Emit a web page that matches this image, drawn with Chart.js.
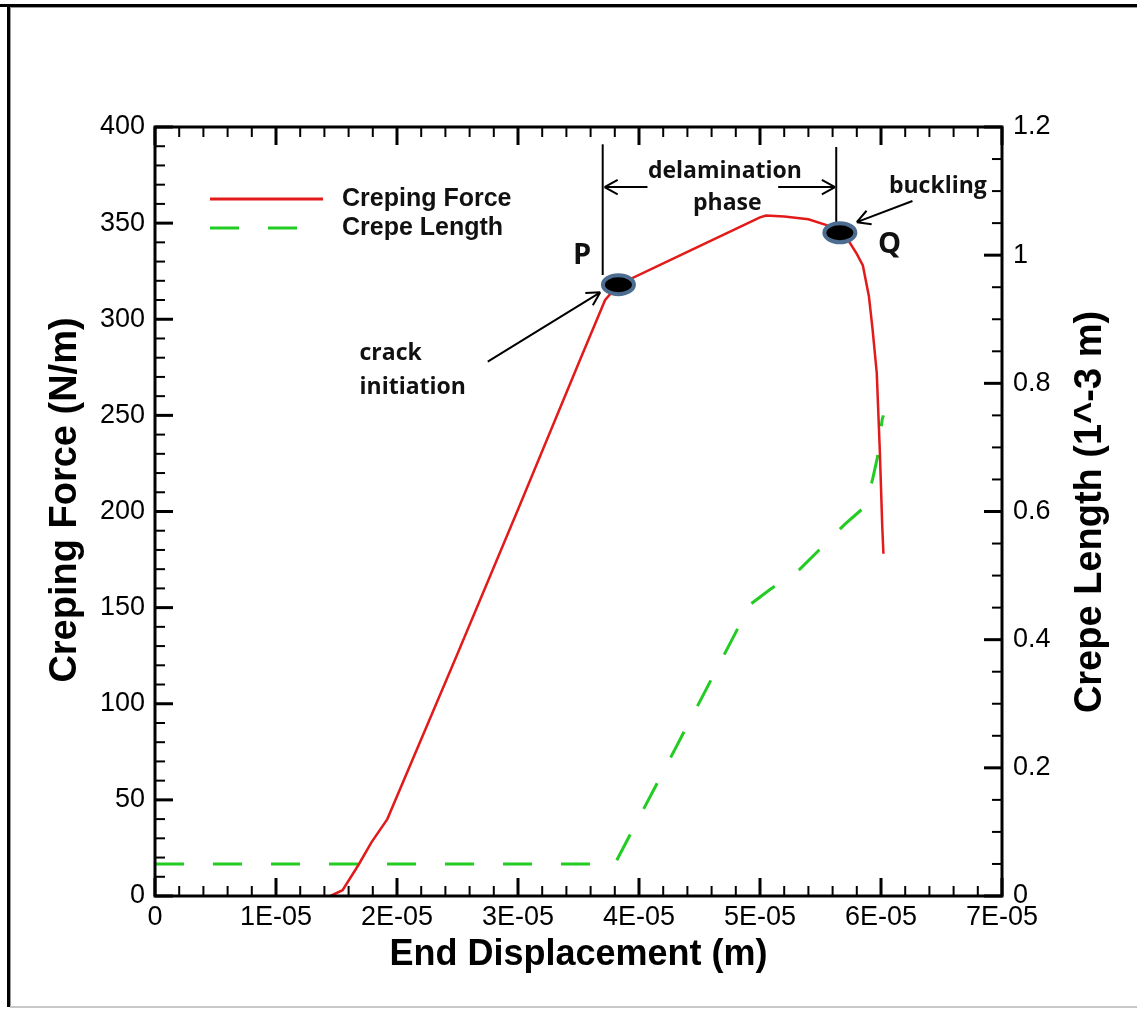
<!DOCTYPE html>
<html>
<head>
<meta charset="utf-8">
<title>Creping Force / Crepe Length</title>
<script src="https://cdn.jsdelivr.net/npm/chart.js@4.4.1/dist/chart.umd.min.js"></script>
<style>
  html, body { margin: 0; padding: 0; background: #fff; }
  canvas { display: block; }
</style>
</head>
<body>
<canvas id="chart" width="1137" height="1009"></canvas>
<script>
// Creping force (N/m) over end displacement (m)
const forceX = [1.45e-5, 1.55e-5, 1.68e-5, 1.79e-5, 1.92e-5, 2.5e-5, 3.0e-5, 3.5e-5, 3.72e-5, 3.83e-5,
                4.4e-5, 5.0e-5, 5.05e-5, 5.2e-5, 5.4e-5, 5.55e-5, 5.66e-5, 5.74e-5, 5.8e-5, 5.85e-5,
                5.9e-5, 5.93e-5, 5.965e-5, 5.99e-5, 6.01e-5, 6.02e-5];
const forceY = [0, 3, 16, 28, 40, 126, 201, 277, 310, 318,
                335, 353, 354, 353.5, 352, 349, 345, 340, 334, 328,
                312, 295, 272, 232, 193, 178];

// Crepe length (1^-3 m) over end displacement (m)
const lengthX = [0, 3.8e-5, 4.3e-5, 4.92e-5, 5.08e-5, 5.33e-5, 5.7e-5, 5.87e-5, 5.93e-5, 5.97e-5, 6.01e-5, 6.02e-5];
const lengthY = [0.05, 0.05, 0.23, 0.455, 0.478, 0.51, 0.58, 0.608, 0.65, 0.684, 0.744, 0.75];

// tick labels
const xTickLabels = ["0", "1E-05", "2E-05", "3E-05", "4E-05", "5E-05", "6E-05", "7E-05"];
const forceTickLabels = ["0", "50", "100", "150", "200", "250", "300", "350", "400"];
const lengthTickLabels = ["0", "0.2", "0.4", "0.6", "0.8", "1", "1.2"];

const RED = "#e21a1a";
const GREEN = "#22cc22";

function toXY(xs, ys) {
    return xs.map((x, i) => ({ x: x, y: ys[i] }));
}

// Ticks, box, legend and annotations drawn on top using the chart scales
const decorations = {
    id: "decorations",
    beforeDraw(chart) {
        const ctx = chart.ctx;
        ctx.save();
        ctx.fillStyle = "#fff";
        ctx.fillRect(0, 0, chart.width, chart.height);
        // picture frame
        ctx.fillStyle = "#000";
        ctx.fillRect(0, 4, chart.width, 3);
        ctx.fillRect(7, 4, 3, chart.height - 6);
        ctx.fillStyle = "#999";
        ctx.fillRect(10, 7, chart.width - 10, 1);
        ctx.fillRect(10, 7, 1, chart.height - 9);
        ctx.fillStyle = "#c8c8c8";
        ctx.fillRect(10, chart.height - 3, chart.width - 10, 2);
        ctx.restore();
    },
    afterDatasetsDraw(chart) {
        const ctx = chart.ctx;
        const area = chart.chartArea;
        const sx = chart.scales.x, sy = chart.scales.y, sy1 = chart.scales.y1;
        const px = v => sx.getPixelForValue(v);
        const py = v => sy.getPixelForValue(v);
        ctx.save();

        // inward ticks
        ctx.strokeStyle = "#000";
        function tick(x1, y1, x2, y2, w) {
            ctx.lineWidth = w;
            ctx.beginPath();
            ctx.moveTo(x1, y1);
            ctx.lineTo(x2, y2);
            ctx.stroke();
        }
        for (let i = 0; i <= 35; i++) {
            const x = px(i * 2e-6);
            const major = i % 5 === 0;
            const len = major ? 18 : 10;
            tick(x, area.bottom, x, area.bottom - len, major ? 3 : 2);
            tick(x, area.top, x, area.top + len, major ? 3 : 2);
        }
        for (let i = 0; i <= 40; i++) {
            const y = py(i * 10);
            const major = i % 5 === 0;
            tick(area.left, y, area.left + (major ? 18 : 10), y, major ? 3 : 2);
        }
        for (let i = 0; i <= 24; i++) {
            const y = sy1.getPixelForValue(i * 0.05);
            const major = i % 4 === 0;
            tick(area.right, y, area.right - (major ? 18 : 10), y, major ? 3 : 2);
        }

        // plot box
        ctx.lineWidth = 3;
        ctx.strokeRect(area.left, area.top, area.right - area.left, area.bottom - area.top);

        // legend
        ctx.lineWidth = 3;
        ctx.strokeStyle = RED;
        ctx.beginPath();
        ctx.moveTo(area.left + 55, 199);
        ctx.lineTo(area.left + 168, 199);
        ctx.stroke();
        ctx.strokeStyle = GREEN;
        ctx.setLineDash([29, 29]);
        ctx.beginPath();
        ctx.moveTo(area.left + 55, 228);
        ctx.lineTo(area.left + 142, 228);
        ctx.stroke();
        ctx.setLineDash([]);
        ctx.fillStyle = "#111";
        ctx.font = "bold 25px 'Liberation Sans', Arial, sans-serif";
        ctx.textAlign = "left";
        ctx.textBaseline = "middle";
        ctx.fillText("Creping Force", area.left + 187, 199);
        ctx.fillText("Crepe Length", area.left + 187, 228);

        // annotation lines and arrows
        ctx.strokeStyle = "#000";
        ctx.lineWidth = 2;
        function line(x1, y1, x2, y2) {
            ctx.beginPath();
            ctx.moveTo(px(x1), py(y1));
            ctx.lineTo(px(x2), py(y2));
            ctx.stroke();
        }
        function arrow(x1, y1, x2, y2) {
            const ax = px(x1), ay = py(y1), bx = px(x2), by = py(y2);
            const ang = Math.atan2(by - ay, bx - ax);
            ctx.beginPath();
            ctx.moveTo(ax, ay);
            ctx.lineTo(bx, by);
            for (const d of [-0.5, 0.5]) {
                ctx.moveTo(bx, by);
                ctx.lineTo(bx - 15 * Math.cos(ang + d), by - 15 * Math.sin(ang + d));
            }
            ctx.stroke();
        }
        line(3.70e-5, 391, 3.70e-5, 323);
        line(5.63e-5, 389.6, 5.63e-5, 350);
        arrow(4.07e-5, 368.75, 3.715e-5, 368.75);
        arrow(5.15e-5, 368.75, 5.62e-5, 368.75);
        arrow(6.26e-5, 361.5, 5.80e-5, 350.5);
        arrow(2.75e-5, 278, 3.68e-5, 314);

        // P and Q markers
        function dot(x, y) {
            ctx.beginPath();
            ctx.ellipse(px(x), py(y), 15.5, 9.5, 0, 0, Math.PI * 2);
            ctx.fillStyle = "#000";
            ctx.fill();
            ctx.lineWidth = 4;
            ctx.strokeStyle = "#4d6d90";
            ctx.stroke();
        }
        dot(3.83e-5, 318);
        dot(5.66e-5, 345);

        // annotation text
        ctx.fillStyle = "#111";
        ctx.textBaseline = "middle";
        ctx.font = "bold 23px 'Open Sans', sans-serif";
        ctx.textAlign = "center";
        ctx.fillText("delamination", px(4.71e-5), py(377));
        ctx.fillText("phase", px(4.73e-5), py(360));
        ctx.fillText("buckling", px(6.47e-5), py(369));
        ctx.textAlign = "left";
        ctx.fillText("crack", px(1.69e-5), py(282));
        ctx.fillText("initiation", px(1.69e-5), py(264.6));
        ctx.font = "bold 29px 'Open Sans', sans-serif";
        ctx.textAlign = "center";
        ctx.fillText("P", px(3.53e-5), py(333));
        ctx.fillText("Q", px(6.07e-5), py(338.5));

        // y axis titles (both read bottom to top)
        ctx.fillStyle = "#000";
        ctx.font = "bold 38px 'Liberation Sans', Arial, sans-serif";
        ctx.save();
        ctx.translate(66, 500);
        ctx.rotate(-Math.PI / 2);
        ctx.fillText("Creping Force (N/m)", 0, 0);
        ctx.restore();
        ctx.save();
        ctx.translate(1091, 512);
        ctx.rotate(-Math.PI / 2);
        ctx.fillText("Crepe Length (1^-3 m)", 0, 0);
        ctx.restore();

        ctx.restore();
    }
};

const tickFont = { family: "'Liberation Sans', Arial, sans-serif", size: 27 };

new Chart(document.getElementById("chart"), {
    type: "line",
    data: {
        datasets: [
            {
                label: "Creping Force",
                data: toXY(forceX, forceY),
                yAxisID: "y",
                borderColor: RED,
                borderWidth: 2.5,
                pointRadius: 0,
                tension: 0
            },
            {
                label: "Crepe Length",
                data: toXY(lengthX, lengthY),
                yAxisID: "y1",
                borderColor: GREEN,
                borderWidth: 3,
                borderDash: [29, 29],
                pointRadius: 0,
                tension: 0
            }
        ]
    },
    options: {
        responsive: false,
        animation: false,
        devicePixelRatio: 1,
        layout: { padding: { top: 127, left: 0, right: 0, bottom: 0 } },
        plugins: {
            legend: { display: false },
            tooltip: { enabled: false }
        },
        scales: {
            x: {
                type: "linear",
                min: 0,
                max: 7e-5,
                grid: { display: false, drawTicks: false },
                border: { display: false },
                ticks: {
                    stepSize: 1e-5,
                    autoSkip: false,
                    maxRotation: 0,
                    padding: 5,
                    color: "#000",
                    font: tickFont,
                    callback: (v, i) => xTickLabels[i]
                },
                title: {
                    display: true,
                    text: "End Displacement (m)",
                    color: "#000",
                    font: { family: "'Liberation Sans', Arial, sans-serif", size: 36, weight: "bold" },
                    padding: { top: 0, bottom: 32 }
                },
                afterFit: s => { s.height = 113; }
            },
            y: {
                position: "left",
                min: 0,
                max: 400,
                grid: { display: false, drawTicks: false },
                border: { display: false },
                ticks: {
                    stepSize: 50,
                    autoSkip: false,
                    padding: 10,
                    color: "#000",
                    font: tickFont,
                    callback: (v, i) => forceTickLabels[i]
                },
                afterFit: s => { s.width = 155; }
            },
            y1: {
                position: "right",
                min: 0,
                max: 1.2,
                grid: { display: false, drawTicks: false },
                border: { display: false },
                ticks: {
                    stepSize: 0.2,
                    autoSkip: false,
                    padding: 11,
                    color: "#000",
                    font: tickFont,
                    callback: (v, i) => lengthTickLabels[i]
                },
                afterFit: s => { s.width = 135; }
            }
        }
    },
    plugins: [decorations]
});
</script>
</body>
</html>
